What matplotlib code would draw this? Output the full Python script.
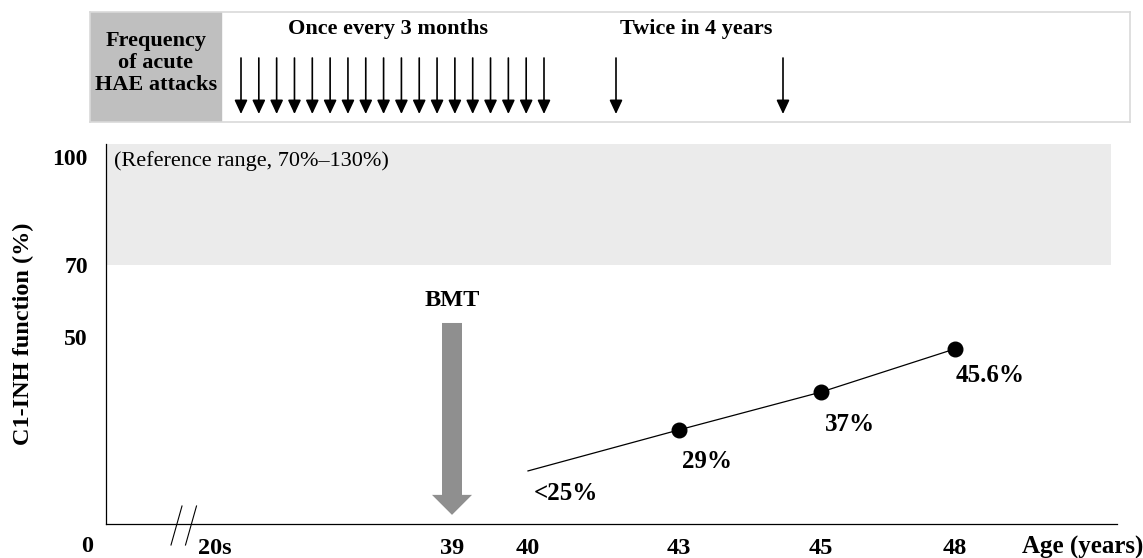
import numpy as np
import matplotlib
matplotlib.use("Agg")
import matplotlib.pyplot as plt
from matplotlib.patches import Rectangle
from matplotlib.lines import Line2D

plt.rcParams['font.family'] = ['Liberation Serif', 'DejaVu Serif']

# data
ages = [40, 43, 45, 48]
c1inh = [12.8, 24.2, 34.7, 46.7]          # plotted heights (schematic)
point_labels = ['<25%', '29%', '37%', '45.6%']
has_marker = [False, True, True, True]
xtick_ages = [25, 39, 40, 43, 45, 48]
xtick_labels = ['20s', '39', '40', '43', '45', '48']
ytick_vals = [50, 70, 100]
ref_low, ref_high = 70, 130
bmt_age = 39
n_attacks_frequent = 18          # once every 3 months
n_attacks_rare = 2               # twice in 4 years

# schematic (broken) age axis -> piecewise linear
age_nodes = [0, 25, 39, 40, 43, 45, 48, 51.5]
pos_nodes = [87, 215, 452, 528, 679, 821, 955, 1117]

def fwd(a):
    return np.interp(a, age_nodes, pos_nodes)

def inv(p):
    return np.interp(p, pos_nodes, age_nodes)

W, H = 1143, 558
fig = plt.figure(figsize=(W / 100, H / 100), dpi=100)

def fx(x):
    return x / W

def fy(y):
    return 1 - y / H

# ---- top panel: attack frequency
ax_top = fig.add_axes([fx(90), fy(122), (1130 - 90) / W, 110 / H])
ax_top.set_xlim(90, 1130)
ax_top.set_ylim(122, 12)
ax_top.set_xticks([])
ax_top.set_yticks([])
for s in ax_top.spines.values():
    s.set_color('#d9d9d9')
    s.set_linewidth(1.2)
ax_top.add_patch(Rectangle((90, 12), 131, 110, color='#bfbfbf', zorder=0))
ax_top.text(156, 63, 'Frequency\nof acute\nHAE attacks', ha='center', va='center',
            fontsize=16, fontweight='bold', linespacing=1.15)
ax_top.text(388, 29, 'Once every 3 months', ha='center', va='center',
            fontsize=16, fontweight='bold')
ax_top.text(696, 29, 'Twice in 4 years', ha='center', va='center',
            fontsize=16, fontweight='bold')
arrow_x = list(np.linspace(241, 544, n_attacks_frequent)) + [616, 783][:n_attacks_rare]
for x in arrow_x:
    ax_top.annotate('', xy=(x, 114), xytext=(x, 58),
                    arrowprops=dict(arrowstyle='-|>,head_length=0.6,head_width=0.28',
                                    color='black', lw=1.2, shrinkA=0, shrinkB=0,
                                    mutation_scale=14))

# ---- main panel
ax = fig.add_axes([fx(106), fy(524), (1117 - 106) / W, (524 - 144) / H])
ax.set_xscale('function', functions=(fwd, inv))
ax.set_xlim(inv(106), age_nodes[-1])
ax.set_ylim(70 - (524 - 265) / 3.6, 70 + (265 - 144) / 3.6)

ax.axhspan(ref_low, ref_high, xmax=0.994, color='#ebebeb', lw=0, zorder=0)
ax.text(0.008, 0.982, '(Reference range, 70%–130%)', transform=ax.transAxes,
        ha='left', va='top', fontsize=16)

ax.plot(ages, c1inh, color='black', lw=0.9, zorder=2)
mx = [a for a, m in zip(ages, has_marker) if m]
my = [v for v, m in zip(c1inh, has_marker) if m]
ax.plot(mx, my, 'o', color='black', ms=10.5, zorder=3)

offsets = [(27, -16), (20, -23), (21, -23), (25, -19.5)]
for a, v, lab, off in zip(ages, c1inh, point_labels, offsets):
    ax.annotate(lab, (a, v), xytext=off, textcoords='offset points',
                ha='center', va='center', fontsize=18, fontweight='bold')

# BMT arrow
ax.annotate('', xy=(bmt_age, 0.024), xytext=(bmt_age, 0.529),
            xycoords=('data', 'axes fraction'), textcoords=('data', 'axes fraction'),
            arrowprops=dict(arrowstyle='simple,head_length=1.0,head_width=2.0,tail_width=1.0',
                            mutation_scale=14.4, color='#8f8f8f', lw=0,
                            shrinkA=0, shrinkB=0))
ax.text(bmt_age, 0.587, 'BMT', transform=ax.get_xaxis_transform(),
        ha='center', va='center', fontsize=17.5, fontweight='bold')

for s in ['top', 'right']:
    ax.spines[s].set_visible(False)
for s in ['left', 'bottom']:
    ax.spines[s].set_linewidth(0.9)

ax.set_xticks(xtick_ages)
ax.set_xticklabels(xtick_labels, fontsize=17.5, fontweight='bold')
ax.set_yticks(ytick_vals)
ax.set_yticklabels([str(v) for v in ytick_vals], fontsize=17, fontweight='bold')
ax.tick_params(axis='x', length=0, pad=10)
ax.tick_params(axis='y', length=0, pad=13)
ax.minorticks_off()

ax.text(0, -0.058, '0', transform=ax.get_xaxis_transform(), ha='center', va='center',
        fontsize=17.5, fontweight='bold')
fig.text(fx(1083), fy(547), 'Age (years)', ha='center', va='center',
         fontsize=18, fontweight='bold')
fig.text(fx(23), fy(334), 'C1-INH function (%)', rotation=90, ha='center', va='center',
         fontsize=17.5, fontweight='bold')

# axis break marks
for cx in [176.5, 191]:
    fig.add_artist(Line2D([fx(cx - 5.5), fx(cx + 5.5)], [fy(545), fy(506)],
                          color='black', lw=0.8, transform=fig.transFigure))

fig.savefig('out.png', dpi=100)
